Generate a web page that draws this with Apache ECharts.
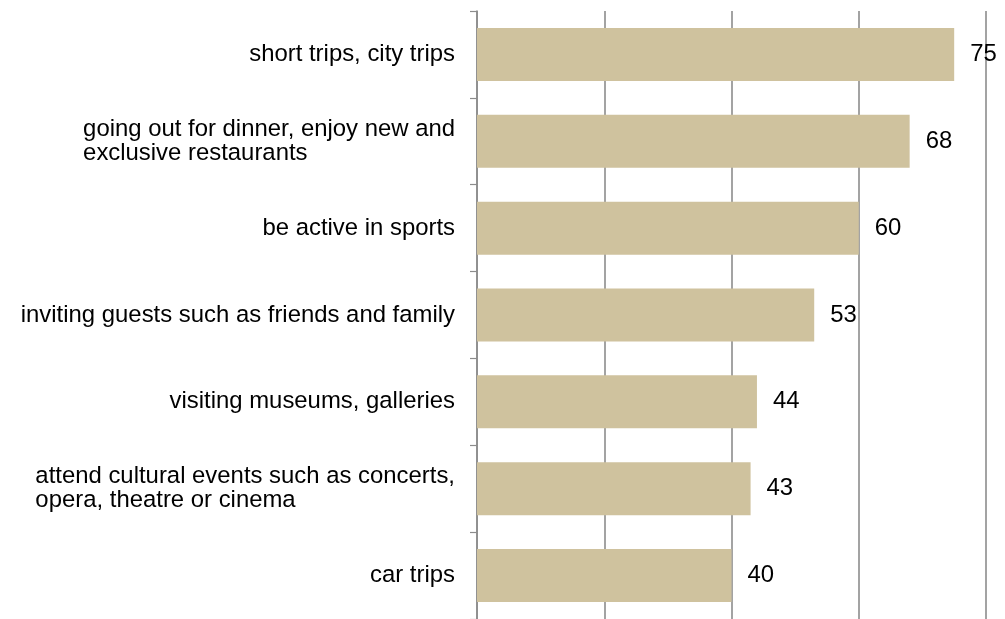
<!DOCTYPE html>
<html>
<head>
<meta charset="utf-8">
<script src="https://cdn.jsdelivr.net/npm/echarts@6/dist/echarts.min.js"></script>
<style>html,body{margin:0;padding:0;background:#fff}#c{width:1005px;height:619px}</style>
</head>
<body>
<div id="c"></div>
<script>
const categories = [
  ["short trips, city trips"],
  ["going out for dinner, enjoy new and", "exclusive restaurants"],
  ["be active in sports"],
  ["inviting guests such as friends and family"],
  ["visiting museums, galleries"],
  ["attend cultural events such as concerts,", "opera, theatre or cinema"],
  ["car trips"]
];
const values = [75, 68, 60, 53, 44, 43, 40];
const axisMin = 0, axisMax = 80, axisStep = 20;

const FONT = '"Liberation Sans", Arial, sans-serif';
const FS = 23.9;
const LH = 24;
const chart = echarts.init(document.getElementById('c'), null, {renderer: 'canvas'});
chart.setOption({
  animation: false,
  backgroundColor: '#ffffff',
  grid: {left: 477, top: 11, width: 509, height: 613, containLabel: false},
  xAxis: {
    type: 'value', min: axisMin, max: axisMax, interval: axisStep,
    axisLabel: {show: false}, axisTick: {show: false}, axisLine: {show: false},
    splitLine: {show: true, lineStyle: {color: '#8c8c8c', width: 1.6}}
  },
  yAxis: {
    type: 'category', inverse: true,
    data: categories.map(c => c.join('\n')),
    axisLine: {show: true, lineStyle: {color: '#8c8c8c', width: 1.6}},
    axisTick: {show: true, length: 7, inside: false, lineStyle: {color: '#8c8c8c', width: 1.2}},
    axisLabel: {
      margin: 22, color: '#000', fontFamily: FONT, fontSize: FS, lineHeight: LH,
      align: 'right',
      formatter: v => v.split('\n').map(l => '{a|' + l + '}').join('\n'),
      rich: {a: {align: 'left', color: '#000', fontFamily: FONT, fontSize: FS, lineHeight: LH}}
    }
  },
  series: [{
    type: 'bar', data: values, barCategoryGap: '39%',
    itemStyle: {color: '#cfc29e'},
    label: {show: true, position: 'right', distance: 16, color: '#000', fontFamily: FONT, fontSize: FS}
  }]
});
</script>
</body>
</html>
